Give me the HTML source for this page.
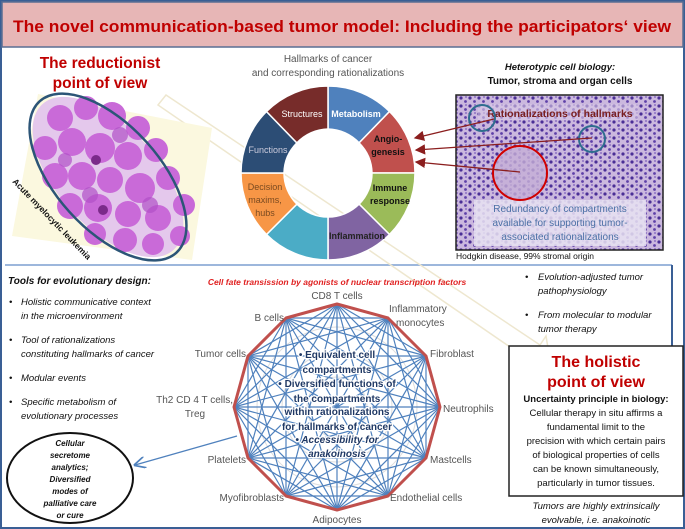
<!DOCTYPE html>
<html><head><meta charset="utf-8"><style>
html,body{margin:0;padding:0;background:#fff}
svg{display:block}
text{font-family:"Liberation Sans",sans-serif}
</style></head><body>
<svg width="685" height="529" viewBox="0 0 685 529" xmlns="http://www.w3.org/2000/svg">
<defs>
<pattern id="dots" width="9" height="8" patternUnits="userSpaceOnUse">
<rect width="9" height="8" fill="#cbb8de"/>
<circle cx="2" cy="2" r="1.6" fill="#4a2e96"/>
<circle cx="6.5" cy="5.5" r="1.4" fill="#5e40a8"/>
<circle cx="7" cy="1" r="0.9" fill="#7a5cba"/>
</pattern>
<marker id="ar" markerWidth="8" markerHeight="8" refX="7" refY="4" orient="auto"><path d="M0,0 L8,4 L0,8 Z" fill="#8b1e1e"/></marker>
<marker id="ab" markerWidth="9" markerHeight="9" refX="8" refY="4.5" orient="auto"><path d="M0,0 L9,4.5 L0,9" fill="none" stroke="#4f81bd" stroke-width="1.3"/></marker>
</defs>
<rect x="0" y="0" width="685" height="529" fill="#fff"/>
<rect x="1" y="1" width="683" height="527" fill="none" stroke="#3a5f95" stroke-width="2"/>
<rect x="2" y="2" width="681" height="45" fill="#e7b6b6" stroke="#5a6e94" stroke-width="1.5"/>
<text x="342" y="32" text-anchor="middle" font-size="17" font-weight="bold" fill="#c00000" textLength="658" lengthAdjust="spacingAndGlyphs">The novel communication-based tumor model: Including the participators‘ view</text>
<line x1="5" y1="265" x2="672" y2="265" stroke="#9db7dc" stroke-width="2"/>
<line x1="672" y1="265" x2="672" y2="346" stroke="#3a5f95" stroke-width="2"/>

<path d="M158,105 L166,95 L540,345 L546,336 L552,372 L518,368 L526,358 Z" fill="none" stroke="#eee7cf" stroke-width="1.5"/>

<text x="100" y="68" text-anchor="middle" font-size="15.5" font-weight="bold" fill="#c00000">The reductionist</text>
<text x="100" y="88" text-anchor="middle" font-size="15.5" font-weight="bold" fill="#c00000">point of view</text>
<polygon points="38,94 212,128 192,260 12,236" fill="#fbf8df"/>
<ellipse cx="108" cy="177" rx="98" ry="50" transform="rotate(48 108 177)" fill="#e4c8ec"/>
<g fill="#c96ad8">
<circle cx="60" cy="118" r="13"/><circle cx="86" cy="108" r="12"/><circle cx="112" cy="116" r="14"/><circle cx="138" cy="128" r="12"/>
<circle cx="45" cy="148" r="12"/><circle cx="72" cy="142" r="14"/><circle cx="100" cy="148" r="15"/><circle cx="128" cy="156" r="14"/><circle cx="156" cy="150" r="12"/>
<circle cx="55" cy="176" r="13"/><circle cx="82" cy="176" r="14"/><circle cx="110" cy="180" r="13"/><circle cx="140" cy="188" r="15"/><circle cx="168" cy="178" r="12"/>
<circle cx="70" cy="206" r="13"/><circle cx="98" cy="208" r="14"/><circle cx="128" cy="214" r="13"/><circle cx="158" cy="218" r="13"/><circle cx="184" cy="205" r="11"/>
<circle cx="95" cy="234" r="11"/><circle cx="125" cy="240" r="12"/><circle cx="153" cy="244" r="11"/><circle cx="180" cy="236" r="10"/>
</g>
<g fill="#b250c8" opacity="0.7">
<circle cx="120" cy="135" r="8"/><circle cx="90" cy="195" r="8"/><circle cx="150" cy="205" r="8"/><circle cx="65" cy="160" r="7"/>
</g>
<circle cx="103" cy="210" r="5" fill="#7b2a8a"/><circle cx="96" cy="160" r="5" fill="#7b2a8a"/>
<ellipse cx="108" cy="177" rx="102" ry="52" transform="rotate(48 108 177)" fill="none" stroke="#2c5577" stroke-width="2.5"/>
<text transform="translate(12,182) rotate(46)" font-size="8.5" font-weight="bold" fill="#111">Acute myelocytic leukemia</text>

<text x="328" y="62" text-anchor="middle" font-size="10" fill="#555">Hallmarks of cancer</text>
<text x="328" y="76" text-anchor="middle" font-size="10" fill="#555">and corresponding rationalizations</text>
<g stroke="#fff" stroke-width="1.5">
<path d="M328,86 A87,87 0 0 1 389.5,111.5 L359.1,142.9 A44,44 0 0 0 328,129 Z" fill="#4f81bd"/>
<path d="M389.5,111.5 A87,87 0 0 1 415,173 L372,173 A44,44 0 0 0 359.1,142.9 Z" fill="#c0504d"/>
<path d="M415,173 A87,87 0 0 1 389.5,234.5 L359.1,204.1 A44,44 0 0 0 372,173 Z" fill="#9bbb59"/>
<path d="M389.5,234.5 A87,87 0 0 1 328,260 L328,217 A44,44 0 0 0 359.1,204.1 Z" fill="#8064a2"/>
<path d="M328,260 A87,87 0 0 1 266.5,234.5 L296.9,204.1 A44,44 0 0 0 328,217 Z" fill="#4bacc6"/>
<path d="M266.5,234.5 A87,87 0 0 1 241,173 L284,173 A44,44 0 0 0 296.9,204.1 Z" fill="#f79646"/>
<path d="M241,173 A87,87 0 0 1 266.5,111.5 L296.9,142.9 A44,44 0 0 0 284,173 Z" fill="#2c4d75"/>
<path d="M266.5,111.5 A87,87 0 0 1 328,86 L328,129 A44,44 0 0 0 296.9,142.9 Z" fill="#772c2a"/>
</g>
<g font-size="9" text-anchor="middle">
<text x="302" y="117" fill="#fff">Structures</text>
<text x="356" y="117" fill="#fff" font-weight="bold">Metabolism</text>
<text x="388" y="142" fill="#111" font-weight="bold">Angio-</text>
<text x="388" y="155" fill="#111" font-weight="bold">genesis</text>
<text x="268" y="153" fill="#ccd">Functions</text>
<text x="390" y="191" fill="#111" font-weight="bold">Immune</text>
<text x="390" y="204" fill="#111" font-weight="bold">response</text>
<text x="265" y="190" fill="#7a4a20">Decision</text>
<text x="265" y="203" fill="#7a4a20">maxims,</text>
<text x="265" y="216" fill="#7a4a20">hubs</text>
<text x="357" y="239" fill="#222" font-weight="bold">Inflammation</text>
</g>

<text x="560" y="70" text-anchor="middle" font-size="9.5" font-weight="bold" font-style="italic" fill="#111">Heterotypic cell biology:</text>
<text x="560" y="84" text-anchor="middle" font-size="10" font-weight="bold" fill="#111">Tumor, stroma and  organ cells</text>
<rect x="456" y="95" width="207" height="155" fill="url(#dots)" stroke="#222" stroke-width="1.5"/>
<rect x="478" y="104" width="160" height="16" fill="#d9c8e6" opacity="0.6"/>
<text x="560" y="117" text-anchor="middle" font-size="10.5" font-weight="bold" fill="#7a2020">Rationalizations of hallmarks</text>
<circle cx="520" cy="173" r="26" fill="#c4aed6" opacity="0.8"/>
<rect x="474" y="200" width="172" height="46" fill="#e8e2f2" opacity="0.85"/>
<g font-size="10" fill="#4a6fa5" text-anchor="middle">
<text x="560" y="212">Redundancy of compartments</text>
<text x="560" y="226">available for supporting tumor-</text>
<text x="560" y="240">associated rationalizations</text>
</g>
<circle cx="482" cy="118" r="13" fill="none" stroke="#2e6d8e" stroke-width="2"/>
<circle cx="592" cy="139" r="13" fill="none" stroke="#2e6d8e" stroke-width="2"/>
<circle cx="520" cy="173" r="27" fill="none" stroke="#d00000" stroke-width="2"/>
<g stroke="#8b1e1e" stroke-width="1.3">
<line x1="494" y1="119" x2="415" y2="138" marker-end="url(#ar)"/>
<line x1="592" y1="138" x2="416" y2="150" marker-end="url(#ar)"/>
<line x1="520" y1="172" x2="416" y2="162" marker-end="url(#ar)"/>
</g>
<text x="456" y="259" font-size="8.5" fill="#111">Hodgkin disease, 99% stromal origin</text>

<text x="8" y="284" font-size="10" font-weight="bold" font-style="italic" fill="#111">Tools for evolutionary design:</text>
<g font-size="9.5" font-style="italic" fill="#111">
<text x="9" y="305">•</text><text x="21" y="305">Holistic communicative context</text><text x="21" y="319">in the microenvironment</text>
<text x="9" y="343">•</text><text x="21" y="343">Tool of rationalizations</text><text x="21" y="357">constituting hallmarks of cancer</text>
<text x="9" y="381">•</text><text x="21" y="381">Modular events</text>
<text x="9" y="405">•</text><text x="21" y="405">Specific metabolism of</text><text x="21" y="419">evolutionary processes</text>
</g>
<ellipse cx="70" cy="478" rx="63" ry="45" fill="#fff" stroke="#111" stroke-width="2"/>
<g font-size="8" font-weight="bold" font-style="italic" fill="#111" text-anchor="middle">
<text x="70" y="446">Cellular</text><text x="70" y="458">secretome</text><text x="70" y="470">analytics;</text>
<text x="70" y="482">Diversified</text><text x="70" y="494">modes of</text><text x="70" y="506">palliative care</text><text x="70" y="518">or cure</text>
</g>
<line x1="237" y1="436" x2="135" y2="465" stroke="#4f81bd" stroke-width="1.3" marker-end="url(#ab)"/>

<text x="337" y="285" text-anchor="middle" font-size="8.5" font-weight="bold" font-style="italic" fill="#e02020">Cell fate transission by  agonists of nuclear transcription factors</text>
<g fill="none" stroke="#ddd" stroke-width="1"><circle cx="337" cy="407" r="30"/><circle cx="337" cy="407" r="55"/><circle cx="337" cy="407" r="80"/></g>
<g fill="none" stroke="#4f81bd" stroke-width="1.2" stroke-linejoin="round">
<polygon points="337,304 426,356 426,458 337,510 248,458 248,356"/>
<polygon points="388,318 440,407 388,496 286,496 234,407 286,318"/>
<polygon points="337,304 440,407 337,510 234,407"/>
<polygon points="388,318 426,458 286,496 248,356"/>
<polygon points="426,356 388,496 248,458 286,318"/>
<polygon points="337,304 426,458 248,458"/>
<polygon points="388,318 388,496 234,407"/>
<polygon points="426,356 337,510 248,356"/>
<polygon points="440,407 286,496 286,318"/>
<polygon points="337,304 388,496 248,356 440,407 248,458 388,318 337,510 286,318 426,458 234,407 426,356 286,496"/>
<path d="M337,304L337,510M388,318L286,496M426,356L248,458M440,407L234,407M426,458L248,356M388,496L286,318"/>
</g>
<polygon points="337,304 388,318 426,356 440,407 426,458 388,496 337,510 286,496 248,458 234,407 248,356 286,318" fill="none" stroke="#c0504d" stroke-width="3" stroke-linejoin="round"/>
<g font-size="10" fill="#555">
<text x="337" y="299" text-anchor="middle">CD8 T cells</text>
<text x="389" y="312">Inflammatory</text>
<text x="396" y="326">monocytes</text>
<text x="430" y="357">Fibroblast</text>
<text x="443" y="412">Neutrophils</text>
<text x="430" y="463">Mastcells</text>
<text x="390" y="501">Endothelial cells</text>
<text x="337" y="523" text-anchor="middle">Adipocytes</text>
<text x="284" y="501" text-anchor="end">Myofibroblasts</text>
<text x="246" y="463" text-anchor="end">Platelets</text>
<text x="233" y="403" text-anchor="end">Th2 CD 4 T cells,</text>
<text x="195" y="417" text-anchor="middle">Treg</text>
<text x="246" y="357" text-anchor="end">Tumor cells</text>
<text x="284" y="321" text-anchor="end">B cells</text>
</g>
<g font-size="10" font-weight="bold" fill="#1f3864" text-anchor="middle" stroke="#fff" stroke-width="2.5" paint-order="stroke">
<text x="337" y="358">•   Equivalent cell</text>
<text x="337" y="373">compartments</text>
<text x="337" y="387">•   Diversified functions of</text>
<text x="337" y="402">the compartments</text>
<text x="337" y="415">within rationalizations</text>
<text x="337" y="430">for hallmarks of cancer</text>
<text x="337" y="443" font-style="italic">•   Accessibility for</text>
<text x="337" y="457" font-style="italic">anakoinosis</text>
</g>

<g font-size="9.5" font-style="italic" fill="#111">
<text x="525" y="280">•</text><text x="538" y="280">Evolution-adjusted tumor</text><text x="538" y="294">pathophysiology</text>
<text x="525" y="318">•</text><text x="538" y="318">From molecular to modular</text><text x="538" y="332">tumor therapy</text>
</g>
<rect x="509" y="346" width="174" height="150" fill="#fff" stroke="#222" stroke-width="1.5"/>
<text x="596" y="367" text-anchor="middle" font-size="16" font-weight="bold" fill="#c00000">The holistic</text>
<text x="596" y="387" text-anchor="middle" font-size="16" font-weight="bold" fill="#c00000">point of view</text>
<g font-size="9.5" fill="#111" text-anchor="middle">
<text x="596" y="402" font-weight="bold">Uncertainty principle in biology:</text>
<text x="596" y="416">Cellular therapy in situ affirms a</text>
<text x="596" y="430">fundamental limit to the</text>
<text x="596" y="444">precision with which certain pairs</text>
<text x="596" y="458">of biological properties of cells</text>
<text x="596" y="472">can be known simultaneously,</text>
<text x="596" y="486">particularly in tumor tissues.</text>
<text x="596" y="509" font-style="italic">Tumors are highly extrinsically</text>
<text x="596" y="523" font-style="italic">evolvable, i.e. anakoinotic</text>
</g>
</svg>
</body></html>
